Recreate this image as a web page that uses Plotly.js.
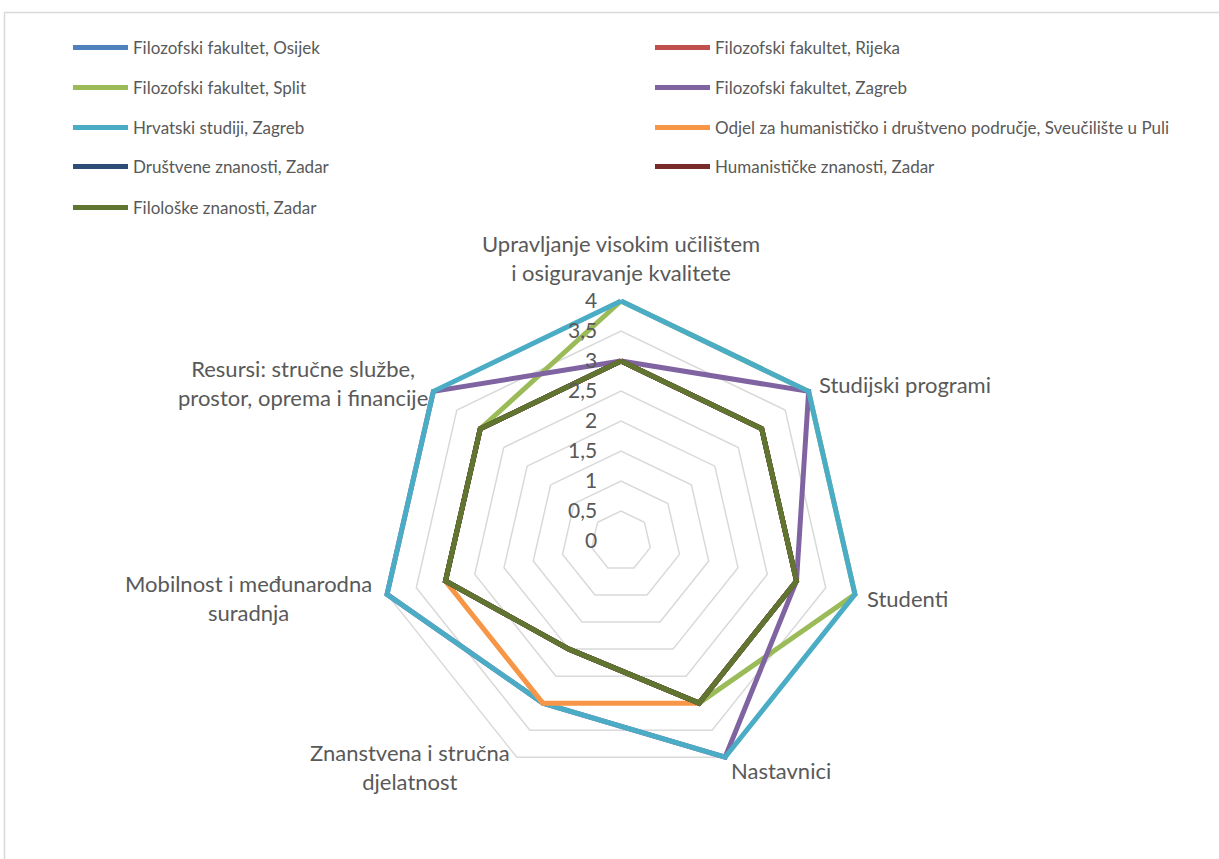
<!DOCTYPE html>
<html>
<head>
<meta charset="utf-8">
<script src="https://cdn.plot.ly/plotly-3.0.1.min.js"></script>
<style>
html,body{margin:0;padding:0;background:#fff;}
#chart{width:1219px;height:859px;}
</style>
</head>
<body>
<div id="chart"></div>
<script>
// Categories (clockwise from top)
const categories = [
  "Upravljanje visokim učilištem<br>i osiguravanje kvalitete",
  "Studijski programi",
  "Studenti",
  "Nastavnici",
  "Znanstvena i stručna<br>djelatnost",
  "Mobilnost i međunarodna<br>suradnja",
  "Resursi: stručne službe,<br>prostor, oprema i financije"
];

const seriesNames = [
  "Filozofski fakultet, Osijek",
  "Filozofski fakultet, Rijeka",
  "Filozofski fakultet, Split",
  "Filozofski fakultet, Zagreb",
  "Hrvatski studiji, Zagreb",
  "Odjel za humanističko i društveno područje, Sveučilište u Puli",
  "Društvene znanosti, Zadar",
  "Humanističke znanosti, Zadar",
  "Filološke znanosti, Zadar"
];

const osijek      = [3, 3, 3, 3, 2, 3, 3];
const rijeka      = [3, 3, 3, 3, 2, 3, 3];
const split       = [4, 4, 4, 3, 2, 3, 3];
const zagrebFF    = [3, 4, 3, 4, 3, 4, 4];
const hrvatski    = [4, 4, 4, 4, 3, 4, 4];
const pula        = [3, 3, 3, 3, 3, 3, 3];
const drustvene   = [3, 3, 3, 3, 2, 3, 3];
const humanisticke= [3, 3, 3, 3, 2, 3, 3];
const filoloske   = [3, 3, 3, 3, 2, 3, 3];

const seriesValues = [osijek, rijeka, split, zagrebFF, hrvatski, pula, drustvene, humanisticke, filoloske];
const colors = ["#4F81BD", "#C0504D", "#9BBB59", "#8064A2", "#4BACC6", "#F79646", "#2C4D75", "#772C2A", "#5F7530"];

const W = 1219, H = 859;
const FONT = "Lato, 'Open Sans', sans-serif";
const TXT = "#595959";

// legend placement (pixel positions of rows/columns)
const legendCols = [68, 650];
const legendRows = [48, 88, 128, 167, 208];

// category label placement (pixel anchor, anchor side)
const labelPos = [
  {x: 621, y: 258, xa: "center"},
  {x: 817, y: 385, xa: "left"},
  {x: 865, y: 598, xa: "left"},
  {x: 729, y: 770, xa: "left"},
  {x: 410, y: 767, xa: "center"},
  {x: 248, y: 598, xa: "center"},
  {x: 303, y: 383, xa: "center"}
];

// polar geometry: centre (621,541), value 4 at 240px; range padded so thick lines are not clipped
const cx = 621, cy = 541, r4 = 240, rMax = 4.06;
const R = r4 * rMax / 4;

const traces = seriesValues.map((vals, i) => ({
  type: "scatterpolar",
  mode: "lines",
  name: seriesNames[i],
  r: vals.concat([vals[0]]),
  theta: categories.concat([categories[0]]),
  line: {color: colors[i], width: 5, shape: "linear"},
  legend: i === 0 ? "legend" : "legend" + (i + 1),
  showlegend: true,
  hoverinfo: "skip"
}));

const layout = {
  width: W, height: H,
  margin: {l: 0, r: 0, t: 0, b: 0},
  paper_bgcolor: "#fff",
  separators: ", ",
  showlegend: true,
  font: {family: FONT, color: TXT},
  polar: {
    domain: {x: [(cx - R) / W, (cx + R) / W], y: [(H - cy - R) / H, (H - cy + R) / H]},
    bgcolor: "#fff",
    gridshape: "linear",
    radialaxis: {
      range: [0, rMax], dtick: 0.5, tick0: 0,
      showline: false, ticks: "outside", ticklen: 16, tickcolor: "rgba(0,0,0,0)",
      gridcolor: "#d9d9d9", gridwidth: 1.5,
      angle: 90, tickangle: 90, side: "counterclockwise",
      layer: "above traces",
      tickfont: {size: 21, color: TXT, family: FONT}
    },
    angularaxis: {
      type: "category", categoryarray: categories,
      rotation: 90, direction: "clockwise",
      showgrid: false, ticks: "", showticklabels: false,
      showline: false,
      layer: "below traces"
    }
  },
  annotations: categories.map((c, i) => ({
    text: c, showarrow: false,
    xref: "paper", yref: "paper",
    x: labelPos[i].x / W, y: 1 - labelPos[i].y / H,
    xanchor: labelPos[i].xa, yanchor: "middle", align: "center",
    font: {size: 22, color: TXT, family: FONT}
  })),
  shapes: [{
    type: "rect", xref: "paper", yref: "paper",
    x0: 4.5 / W, x1: 1.02, y0: -0.02, y1: 1 - 12.5 / H,
    line: {color: "#d9d9d9", width: 1.5}, fillcolor: "rgba(0,0,0,0)", layer: "below"
  }]
};

seriesNames.forEach((n, i) => {
  const key = i === 0 ? "legend" : "legend" + (i + 1);
  layout[key] = {
    x: legendCols[i % 2] / W,
    y: 1 - legendRows[Math.floor(i / 2)] / H,
    xanchor: "left", yanchor: "middle",
    bgcolor: "rgba(0,0,0,0)", borderwidth: 0,
    itemwidth: 55, visible: true,
    font: {size: 17, color: TXT, family: FONT}
  };
});

Plotly.newPlot("chart", traces, layout, {displayModeBar: false, staticPlot: true});
</script>
</body>
</html>
